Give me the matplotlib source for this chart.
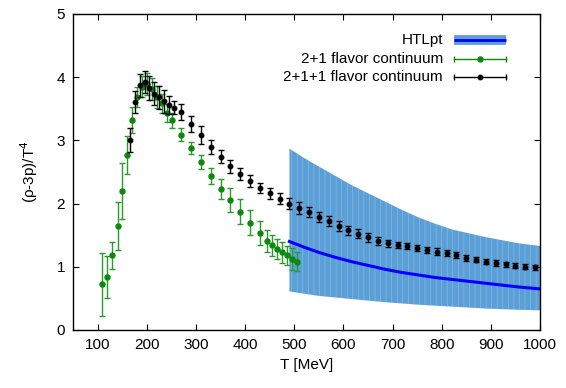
import numpy as np
import matplotlib
matplotlib.use('Agg')
import matplotlib.pyplot as plt

plt.rcParams['font.family'] = ['Liberation Sans', 'DejaVu Sans']
plt.rcParams['hatch.linewidth'] = 0.4

# 2+1 flavor continuum
T_21 = [108, 119, 129, 140, 149, 160, 169, 180, 190, 200, 210, 220, 230, 240, 250,
        270, 290, 310, 330, 350, 370, 390, 410, 430, 445, 455, 465, 475, 485, 495, 505]
y_21 = [0.72, 0.84, 1.18, 1.65, 2.20, 2.77, 3.32, 3.69, 3.85, 3.89, 3.81, 3.69, 3.59, 3.43, 3.32,
        3.09, 2.88, 2.66, 2.44, 2.23, 2.05, 1.87, 1.70, 1.54, 1.41, 1.34, 1.28, 1.23, 1.18, 1.12, 1.08]
e_21 = [0.50, 0.33, 0.21, 0.38, 0.45, 0.30, 0.21, 0.16, 0.17, 0.17, 0.17, 0.17, 0.15, 0.14, 0.12,
        0.10, 0.09, 0.11, 0.13, 0.16, 0.19, 0.20, 0.20, 0.19, 0.17, 0.17, 0.16, 0.17, 0.15, 0.17, 0.15]

# 2+1+1 flavor continuum
T_211 = [165, 175, 185, 195, 205, 215, 225, 235, 245, 255,
         270, 290, 310, 330, 350, 370, 390, 410, 430, 450, 470, 490, 510, 530, 550, 570,
         590, 610, 630, 650, 670, 690, 710, 730, 750, 770, 790, 810, 830, 850, 870, 890,
         910, 930, 950, 970, 990]
y_211 = [3.00, 3.61, 3.87, 3.92, 3.83, 3.74, 3.68, 3.62, 3.56, 3.52,
         3.45, 3.26, 3.08, 2.90, 2.74, 2.59, 2.47, 2.36, 2.24, 2.16, 2.08, 2.00, 1.93, 1.86, 1.79, 1.72,
         1.65, 1.58, 1.52, 1.47, 1.41, 1.37, 1.34, 1.33, 1.30, 1.27, 1.24, 1.22, 1.19, 1.14, 1.11, 1.08,
         1.06, 1.04, 1.02, 1.00, 0.99]
e_211 = [0.19, 0.17, 0.18, 0.17, 0.19, 0.18, 0.18, 0.18, 0.14, 0.10,
         0.12, 0.13, 0.14, 0.11, 0.10, 0.10, 0.09, 0.09, 0.08, 0.08, 0.08, 0.09, 0.09, 0.08, 0.08, 0.08,
         0.08, 0.07, 0.07, 0.07, 0.06, 0.06, 0.05, 0.05, 0.05, 0.05, 0.05, 0.05, 0.05, 0.05, 0.04, 0.04,
         0.04, 0.04, 0.04, 0.04, 0.04]

# HTLpt band
T_htl = [490, 520, 549, 583, 617, 651, 685, 719, 753, 787, 821, 855, 889, 923, 957, 1000]
htl_lo = [0.61, 0.575, 0.54, 0.515, 0.49, 0.465, 0.44, 0.42, 0.40, 0.385, 0.37, 0.355,
          0.34, 0.33, 0.32, 0.31]
htl_mid = [1.40, 1.31, 1.23, 1.15, 1.08, 1.02, 0.96, 0.91, 0.87, 0.83, 0.80, 0.77,
           0.74, 0.71, 0.68, 0.65]
htl_hi = [2.87, 2.72, 2.59, 2.44, 2.29, 2.16, 2.03, 1.90, 1.78, 1.68, 1.59, 1.53,
          1.47, 1.42, 1.37, 1.33]

band_col = '#5b9fd6'
green = '#0a8a0a'

fig = plt.figure(figsize=(5.66, 3.88), dpi=100)
ax = fig.add_axes([0.1295, 0.1495, 0.8245, 0.8145])

ax.fill_between(T_htl, htl_lo, htl_hi, facecolor=band_col, edgecolor='#8cc0ea',
                hatch='|||', linewidth=0, zorder=1)
ax.plot(T_htl, htl_mid, color='#0000ff', lw=2.2, zorder=2)

ax.errorbar(T_21, y_21, yerr=e_21, fmt='o', color=green, ms=3.6, ecolor='#2a9a2a',
            elinewidth=1.0, capsize=2.5, capthick=1.0, zorder=3)
ax.errorbar(T_211, y_211, yerr=e_211, fmt='o', color='black', ms=3.2, ecolor='black',
            elinewidth=1.0, capsize=2.5, capthick=1.0, zorder=4)

ax.set_xlim(50, 1000)
ax.set_ylim(0, 5)
ax.set_xticks(np.arange(100, 1001, 100))
ax.set_yticks(np.arange(0, 6, 1))
ax.tick_params(direction='in', top=True, right=True, length=4, width=0.8, labelsize=11, pad=6)
for s in ax.spines.values():
    s.set_linewidth(1.0)

ax.set_xlabel('T [MeV]', fontsize=11, labelpad=4)
ax.set_ylabel('(ρ-3p)/T$^4$', fontsize=11, labelpad=12)

# legend drawn gnuplot style: right-aligned labels, sample on the right
tx = 0.792
x0, x1 = 0.816, 0.927
rows = [0.918, 0.859, 0.800]
labels = ['HTLpt', '2+1 flavor continuum', '2+1+1 flavor continuum']
for yy, lab in zip(rows, labels):
    ax.text(tx, yy, lab, transform=ax.transAxes, ha='right', va='center', fontsize=11)

ax.plot([x0, x1], [rows[0], rows[0]], transform=ax.transAxes, color=band_col, lw=7,
        solid_capstyle='butt', zorder=5)
ax.plot([x0, x1], [rows[0], rows[0]], transform=ax.transAxes, color='#0000ff', lw=2,
        solid_capstyle='butt', zorder=6)
for yy, c, ms in [(rows[1], green, 3.6), (rows[2], 'black', 3.2)]:
    ax.plot([x0, x1], [yy, yy], transform=ax.transAxes, color=c, lw=1, zorder=5)
    ax.plot([x0, x1], [yy, yy], transform=ax.transAxes, color=c, ls='none', marker='|',
            ms=5, mew=1, zorder=5)
    ax.plot([(x0 + x1) / 2], [yy], transform=ax.transAxes, color=c, marker='o', ms=ms, zorder=6)

fig.savefig('out.png', dpi=100)
